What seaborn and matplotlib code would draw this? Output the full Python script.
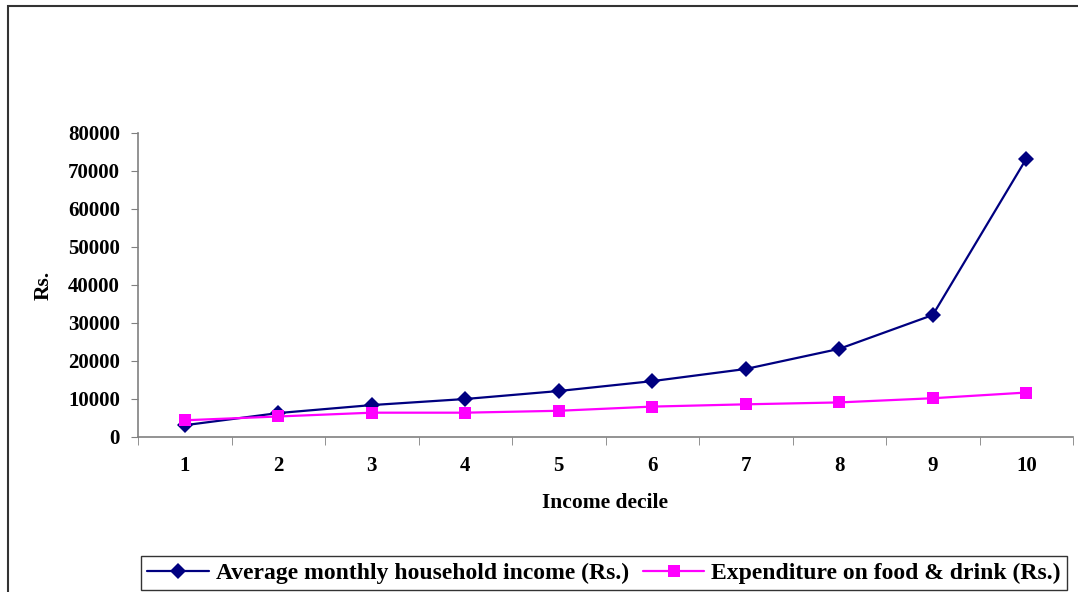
import pandas as pd
import matplotlib
matplotlib.use("Agg")
import matplotlib.pyplot as plt
from matplotlib.patches import Rectangle
import seaborn as sns

# values
deciles = [1, 2, 3, 4, 5, 6, 7, 8, 9, 10]
income = [3100, 6300, 8400, 10000, 12100, 14700, 17900, 23200, 32100, 73200]
food = [4400, 5400, 6400, 6400, 6900, 8000, 8600, 9100, 10200, 11700]
series_names = ["Average monthly household income (Rs.)",
                "Expenditure on food & drink (Rs.)"]
y_ticks = [0, 10000, 20000, 30000, 40000, 50000, 60000, 70000, 80000]

df = pd.concat([
    pd.DataFrame({"decile": deciles, "value": income, "series": series_names[0]}),
    pd.DataFrame({"decile": deciles, "value": food, "series": series_names[1]}),
])

sns.set_style("white")
plt.rcParams["font.family"] = ["Liberation Serif", "DejaVu Serif"]
plt.rcParams["font.weight"] = "bold"
plt.rcParams["text.color"] = "black"
plt.rcParams["axes.labelcolor"] = "black"
plt.rcParams["xtick.color"] = "black"
plt.rcParams["ytick.color"] = "black"

fig = plt.figure(figsize=(10.78, 5.92), dpi=100)
ax = fig.add_axes([138 / 1078, 1 - 437 / 592, (1073 - 138) / 1078, (437 - 133) / 592])

sns.lineplot(
    data=df, x="decile", y="value", hue="series", style="series",
    palette={series_names[0]: "#000080", series_names[1]: "#ff00ff"},
    markers={series_names[0]: "D", series_names[1]: "s"},
    dashes=False, markersize=8, markeredgewidth=0, linewidth=1.6,
    ax=ax, legend=True,
)

ax.set_xlim(0.5, 10.5)
ax.set_ylim(0, 80000)
ax.set_xticks(deciles)
ax.set_xticklabels([str(d) for d in deciles], fontsize=15, fontweight="bold")
ax.set_xticks([d + 0.5 for d in [0] + deciles], minor=True)
ax.set_yticks(y_ticks)
ax.set_yticklabels([str(v) for v in y_ticks], fontsize=15, fontweight="bold")
ax.tick_params(axis="x", which="major", length=0, pad=14)
ax.tick_params(axis="x", which="minor", length=6, color="#808080", direction="out", bottom=True)
ax.tick_params(axis="y", length=5, color="#808080", direction="out", left=True, pad=8)

for side in ["top", "right"]:
    ax.spines[side].set_visible(False)
for side in ["left", "bottom"]:
    ax.spines[side].set_color("#808080")
    ax.spines[side].set_linewidth(1.2)

ax.set_xlabel("Income decile", fontsize=15.5, fontweight="bold", labelpad=12)
ax.set_ylabel("Rs.", fontsize=15.5, fontweight="bold", labelpad=10)

handles, labels = ax.get_legend_handles_labels()
ax.legend(
    handles, labels, loc="center", bbox_to_anchor=(604 / 1078, 1 - 573 / 592),
    bbox_transform=fig.transFigure, ncol=2, frameon=True, fancybox=False,
    edgecolor="black", prop={"weight": "bold", "size": 17},
    handlelength=2.6, columnspacing=0.6, borderpad=0.25, handletextpad=0.3,
    borderaxespad=0,
)

# outer chart border
fig.add_artist(Rectangle((8 / 1078, -0.05), 1.1, 1 - 6 / 592 + 0.05,
                         transform=fig.transFigure, fill=False,
                         edgecolor="#333333", linewidth=1.5))

fig.savefig("out.png", dpi=100)
